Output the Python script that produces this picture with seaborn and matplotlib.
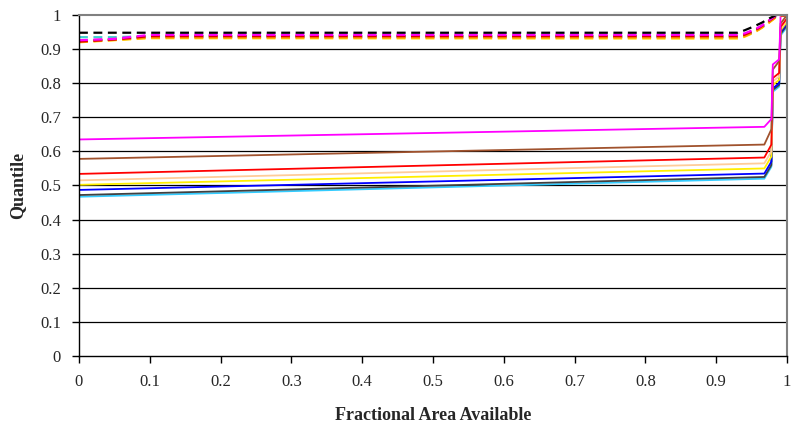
import pandas as pd
import seaborn as sns
import matplotlib.pyplot as plt

# Upper group (dashed) - x positions and quantiles
dash_x = [0, 0.05, 0.1, 0.93, 0.94, 0.955, 0.965, 0.975, 0.985, 1.0]
dash_black = [0.948, 0.948, 0.948, 0.948, 0.955, 0.968, 0.978, 0.99, 1.0, 1.0]
dash_gray = [0.924, 0.93, 0.939, 0.94, 0.944, 0.957, 0.969, 0.984, 0.999, 1.0]
dash_cyan = [0.935, 0.935, 0.938, 0.937, 0.94, 0.952, 0.965, 0.98, 0.996, 1.0]
dash_blue = [0.923, 0.928, 0.936, 0.936, 0.939, 0.952, 0.965, 0.98, 0.996, 1.0]
dash_yellow = [0.92, 0.926, 0.932, 0.931, 0.936, 0.95, 0.963, 0.978, 0.994, 1.0]
dash_orange = [0.921, 0.927, 0.934, 0.934, 0.938, 0.951, 0.964, 0.979, 0.995, 1.0]
dash_red = [0.922, 0.928, 0.938, 0.938, 0.942, 0.955, 0.968, 0.983, 0.998, 1.0]
dash_magenta = [0.926, 0.93, 0.942, 0.942, 0.946, 0.958, 0.97, 0.985, 1.0, 1.0]

# Lower group (solid)
solid_x = [0, 0.968, 0.978, 0.980, 0.989, 0.991, 1.0]
solid_magenta = [0.635, 0.672, 0.695, 0.855, 0.87, 1.0, 1.0]
solid_brown = [0.578, 0.620, 0.665, 0.84, 0.865, 0.975, 1.0]
solid_red = [0.534, 0.582, 0.62, 0.815, 0.83, 0.965, 0.99]
solid_peach = [0.515, 0.565, 0.60, 0.805, 0.82, 0.96, 0.985]
solid_yellow = [0.502, 0.55, 0.585, 0.795, 0.81, 0.955, 0.98]
solid_blue = [0.487, 0.535, 0.57, 0.785, 0.80, 0.95, 0.975]
solid_black = [0.472, 0.525, 0.56, 0.78, 0.795, 0.945, 0.97]
solid_cyan = [0.467, 0.52, 0.555, 0.775, 0.79, 0.94, 0.965]

tick_labels = ["0", "0.1", "0.2", "0.3", "0.4", "0.5", "0.6", "0.7", "0.8", "0.9", "1"]

sns.set_style("white")
plt.rcParams['font.family'] = ['Liberation Serif', 'DejaVu Serif']

fig = plt.figure(figsize=(7.93, 4.25), dpi=100)
ax = fig.add_axes([0.0996, 0.1624, 0.8928, 0.8023])

solid = [
    (solid_cyan, "#33ccff"), (solid_black, "#404040"), (solid_blue, "#0000ff"),
    (solid_yellow, "#ffee00"), (solid_peach, "#ffcc99"), (solid_red, "#ff0000"),
    (solid_brown, "#a0522d"), (solid_magenta, "#ff00ff"),
]
for ys, c in solid:
    sns.lineplot(x=solid_x, y=ys, color=c, lw=1.3, sort=False, estimator=None, ax=ax)

dashed = [
    (dash_cyan, "#40d0d0"), (dash_blue, "#3030ff"), (dash_yellow, "#ffdd00"),
    (dash_orange, "#ff9900"), (dash_gray, "#c08080"), (dash_red, "#dd0000"),
    (dash_magenta, "#ff00ff"), (dash_black, "#000000"),
]
for ys, c in dashed:
    sns.lineplot(x=dash_x, y=ys, color=c, lw=1.6, sort=False, estimator=None,
                 ax=ax, dashes=False, linestyle=(0, (4, 2.5)))

ax.set_xlim(0, 1)
ax.set_ylim(0, 1)
ax.set_xticks([i / 10 for i in range(11)])
ax.set_yticks([i / 10 for i in range(11)])
ax.set_xticklabels(tick_labels)
ax.set_yticklabels(tick_labels)
ax.tick_params(axis='both', direction='out', length=5, width=1, color='black',
               labelsize=12, pad=8, left=True, bottom=True)
for yv in [i / 10 for i in range(1, 10)]:
    ax.axhline(yv, color='black', lw=0.9, zorder=0)
for s in ['left', 'bottom']:
    ax.spines[s].set_color('black')
    ax.spines[s].set_linewidth(1)
for s in ['top', 'right']:
    ax.spines[s].set_color('#808080')
    ax.spines[s].set_linewidth(1.5)

ax.set_xlabel("Fractional Area Available", fontsize=13, fontweight='bold', labelpad=12)
ax.set_ylabel("Quantile", fontsize=13, fontweight='bold', labelpad=10)

fig.savefig("out.png", dpi=100)
